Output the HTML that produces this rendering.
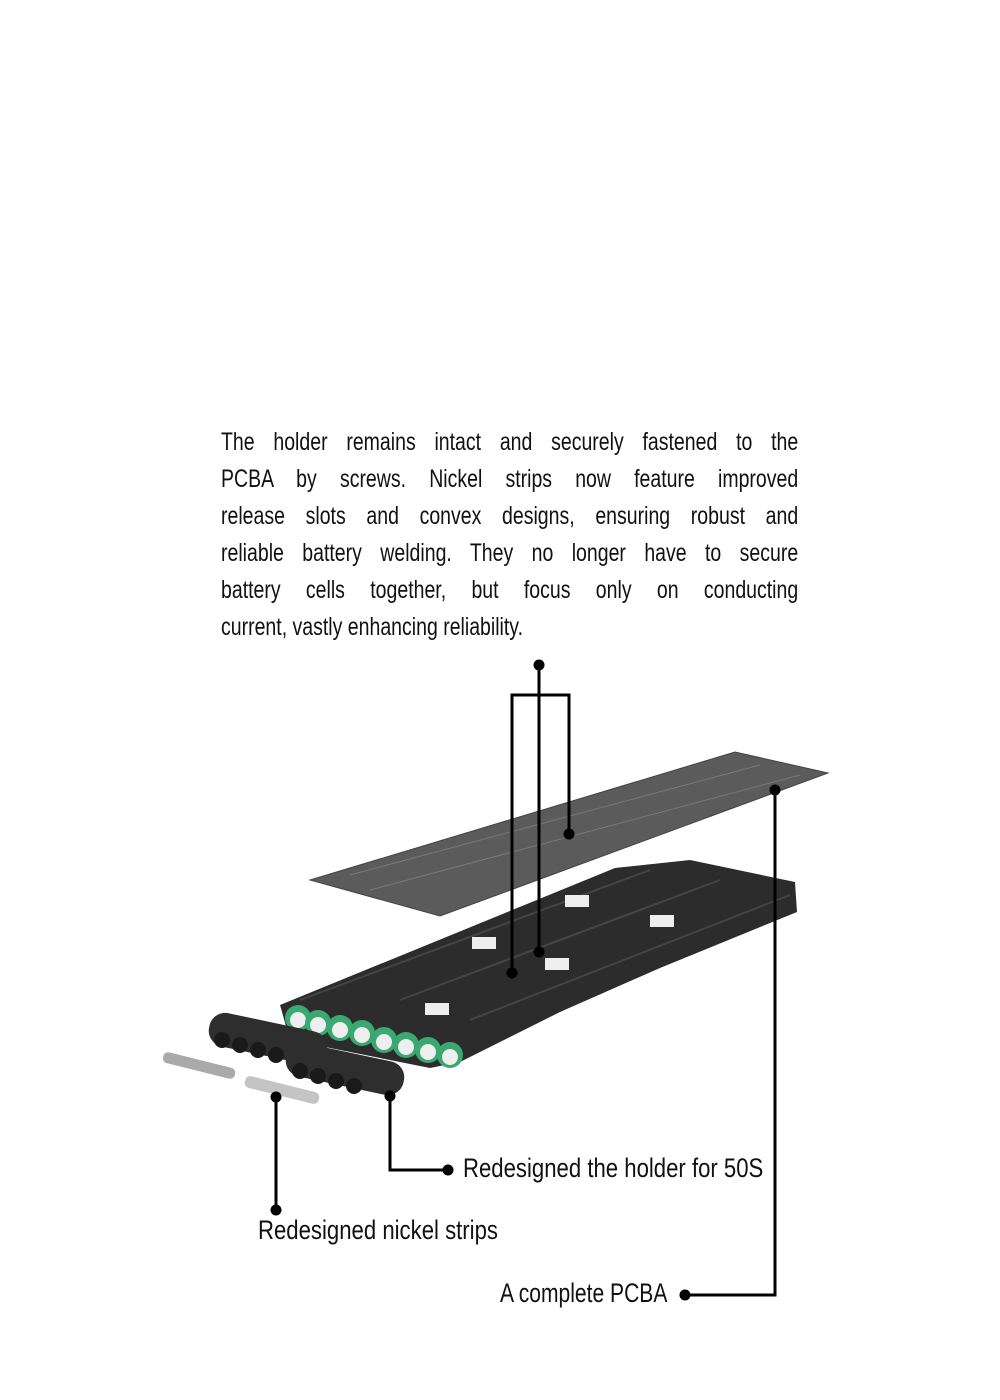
<!DOCTYPE html>
<html><head><meta charset="utf-8"><style>
html,body{margin:0;padding:0;background:#fff;width:1000px;height:1400px;overflow:hidden}
.t{position:absolute;font-family:"Liberation Sans Narrow","Liberation Sans",sans-serif;color:#111;font-size:27px;transform-origin:0 0;transform:scaleX(0.82);white-space:nowrap}
.p{position:absolute;left:221px;top:424px;width:740px;transform-origin:0 0;transform:scaleX(0.78);font-family:"Liberation Sans Narrow","Liberation Sans",sans-serif;font-size:25px;line-height:37px;color:#111}
.p div{text-align:justify;text-align-last:justify;height:37px}
.p div.l{text-align-last:left}
</style></head><body>
<div class="p">
<div>The holder remains intact and securely fastened to the</div>
<div>PCBA by screws. Nickel strips now feature improved</div>
<div>release slots and convex designs, ensuring robust and</div>
<div>reliable battery welding. They no longer have to secure</div>
<div>battery cells together, but focus only on conducting</div>
<div class="l">current, vastly enhancing reliability.</div>
</div>
<svg width="1000" height="1400" style="position:absolute;left:0;top:0">
<polygon points="310,880 735,752 828,773 440,916" fill="#5b5b5b" stroke="#444" stroke-width="1"/>
<g stroke="#777" stroke-width="1" fill="none">
<line x1="370" y1="890" x2="800" y2="775"/><line x1="350" y1="875" x2="760" y2="765"/>
</g>
<polygon points="280,1005 615,868 690,860 795,882 797,912 660,968 560,1012 460,1062 430,1068 290,1040" fill="#2c2c2c"/>
<g stroke="#444" stroke-width="2">
<line x1="300" y1="1000" x2="650" y2="870"/><line x1="400" y1="1000" x2="720" y2="880"/><line x1="470" y1="1020" x2="790" y2="895"/>
</g>
<g fill="#eee"><rect x="425" y="1003" width="24" height="12"/><rect x="545" y="958" width="24" height="12"/><rect x="472" y="937" width="24" height="12"/><rect x="650" y="915" width="24" height="12"/><rect x="565" y="895" width="24" height="12"/></g>
<g>
<circle cx="298" cy="1018" r="13" fill="#3aa870"/><circle cx="298" cy="1020" r="8" fill="#eee"/>
<circle cx="318" cy="1023" r="13" fill="#3aa870"/><circle cx="318" cy="1025" r="8" fill="#eee"/>
<circle cx="340" cy="1028" r="13" fill="#3aa870"/><circle cx="340" cy="1030" r="8" fill="#eee"/>
<circle cx="362" cy="1033" r="13" fill="#3aa870"/><circle cx="362" cy="1035" r="8" fill="#eee"/>
<circle cx="384" cy="1040" r="13" fill="#3aa870"/><circle cx="384" cy="1042" r="8" fill="#eee"/>
<circle cx="406" cy="1045" r="13" fill="#3aa870"/><circle cx="406" cy="1047" r="8" fill="#eee"/>
<circle cx="428" cy="1050" r="13" fill="#3aa870"/><circle cx="428" cy="1052" r="8" fill="#eee"/>
<circle cx="450" cy="1055" r="13" fill="#3aa870"/><circle cx="450" cy="1057" r="8" fill="#eee"/>
</g>
<rect x="208" y="1022" width="120" height="34" rx="16" fill="#2e2e2e" transform="rotate(12 268 1039)"/>
<rect x="285" y="1052" width="120" height="34" rx="16" fill="#2e2e2e" transform="rotate(12 345 1069)"/>
<g fill="#1a1a1a"><circle cx="222" cy="1040" r="8"/><circle cx="240" cy="1045" r="8"/><circle cx="258" cy="1050" r="8"/><circle cx="276" cy="1055" r="8"/><circle cx="300" cy="1071" r="8"/><circle cx="318" cy="1076" r="8"/><circle cx="336" cy="1081" r="8"/><circle cx="354" cy="1086" r="8"/></g>
<rect x="162" y="1060" width="74" height="11" rx="5" fill="#aaa" transform="rotate(14 199 1066)"/>
<rect x="244" y="1084" width="76" height="12" rx="5" fill="#c4c4c4" transform="rotate(14 282 1090)"/>
<g stroke="#000" stroke-width="3" fill="none">
<polyline points="512,973 512,695 569,695 569,834"/>
<line x1="539" y1="665" x2="539" y2="952"/>
<polyline points="775,790 775,1295 685,1295"/>
<polyline points="390,1096 390,1170 448,1170"/>
<line x1="276" y1="1097" x2="276" y2="1210"/>
</g>
<g fill="#000">
<circle cx="539" cy="665" r="5.5"/><circle cx="512" cy="973" r="5.5"/><circle cx="569" cy="834" r="5.5"/><circle cx="539" cy="952" r="5.5"/>
<circle cx="775" cy="790" r="5.5"/><circle cx="685" cy="1295" r="5.5"/>
<circle cx="390" cy="1096" r="5.5"/><circle cx="448" cy="1170" r="5.5"/>
<circle cx="276" cy="1097" r="5.5"/><circle cx="276" cy="1210" r="5.5"/>
</g>
</svg>
<div class="t" style="left:463px;top:1153px">Redesigned the holder for 50S</div>
<div class="t" style="left:258px;top:1215px">Redesigned nickel strips</div>
<div class="t" style="left:500px;top:1278px;transform:scaleX(0.78)">A complete PCBA</div>
</body></html>
